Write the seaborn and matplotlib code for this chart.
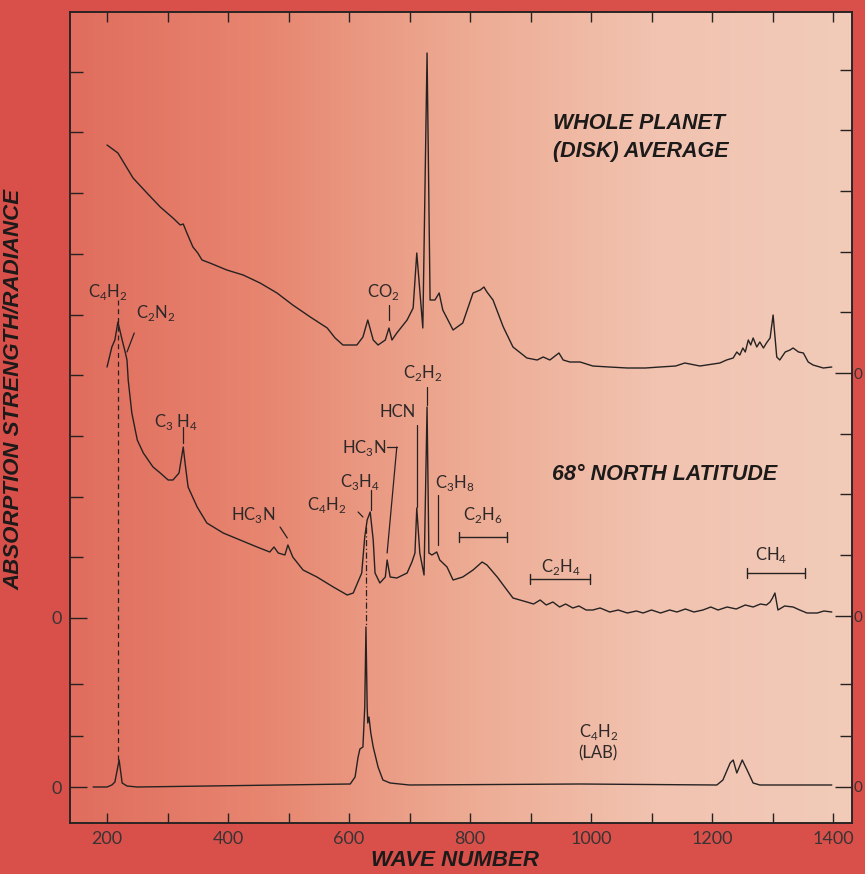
import numpy as np
import pandas as pd
import seaborn as sns
import matplotlib.pyplot as plt
from matplotlib.colors import LinearSegmentedColormap

# Spectra (wave number, height above each trace's zero)
wn_disk = [200, 218, 243, 266, 288, 309, 321, 326, 332, 342, 350, 357, 370, 398, 425, 453,
           481, 507, 536, 564, 577, 590, 613, 623, 631, 640, 648, 660, 666, 671, 679, 696,
           706, 712, 722, 729, 734, 742, 749, 755, 772, 788, 805, 817, 823, 828, 838, 855,
           871, 894, 911, 921, 932, 947, 954, 965, 982, 1003, 1030, 1060, 1090, 1114, 1140,
           1155, 1180, 1213, 1224, 1235, 1241, 1246, 1251, 1255, 1260, 1264, 1268, 1274,
           1279, 1285, 1290, 1296, 1301, 1307, 1312, 1321, 1329, 1334, 1343, 1351, 1359,
           1367, 1384, 1398]
rad_disk = [228, 220, 195, 180, 166, 155, 148, 149, 140, 126, 120, 113, 110, 103, 98, 90,
            80, 68, 56, 45, 35, 28, 28, 36, 53, 33, 28, 33, 45, 33, 40, 53,
            65, 120, 45, 320, 73, 73, 80, 63, 43, 50, 80, 83, 86, 81, 73, 46,
            26, 15, 13, 16, 13, 20, 13, 11, 11, 7, 6, 5, 5, 6, 7,
            10, 7, 10, 13, 15, 21, 18, 25, 21, 33, 28, 35, 26,
            31, 25, 30, 35, 58, 16, 13, 21, 23, 25, 21, 20, 11,
            8, 5, 6]

wn_north = [200, 208, 213, 218, 225, 230, 233, 235, 241, 250, 260, 276, 288, 301, 309, 319,
            326, 329, 334, 349, 365, 392, 420, 448, 469, 476, 483, 494, 499, 507, 524, 547,
            574, 597, 607, 621, 626, 630, 635, 640, 643, 651, 660, 663, 668, 679, 696, 704,
            709, 712, 717, 724, 729, 732, 737, 745, 750, 762, 772, 788, 805, 820, 828, 845,
            861, 871, 894, 905, 916, 926, 937, 948, 958, 970, 980, 992, 1003, 1015, 1031,
            1045, 1060, 1075, 1086, 1100, 1115, 1130, 1142, 1156, 1170, 1185, 1198, 1210,
            1225, 1240, 1255, 1268, 1280, 1290, 1296, 1300, 1304, 1309, 1320, 1334, 1345,
            1357, 1374, 1385, 1398]
rad_north = [251, 271, 278, 296, 278, 266, 258, 238, 205, 178, 165, 151, 145, 138, 138, 145,
             171, 155, 131, 111, 95, 85, 78, 71, 66, 71, 65, 63, 73, 61, 48, 41,
             31, 23, 25, 45, 81, 98, 106, 78, 45, 35, 41, 58, 41, 40, 45, 56,
             65, 110, 65, 43, 211, 65, 63, 66, 58, 51, 38, 41, 48, 56, 53, 41,
             28, 20, 16, 14, 18, 13, 16, 11, 14, 10, 12, 8, 8, 10, 6,
             8, 5, 7, 5, 8, 5, 8, 6, 9, 6, 8, 11, 8,
             11, 9, 13, 11, 14, 13, 16, 20, 25, 8, 12, 11, 8,
             5, 5, 7, 6]

wn_lab = [177, 200, 208, 213, 220, 225, 233, 250, 602, 610, 615, 618, 623, 626, 628, 630,
          631, 633, 636, 640, 648, 656, 668, 700, 982, 1208, 1218, 1230, 1235, 1241, 1250,
          1258, 1268, 1279, 1398]
rad_lab = [0, 0, 2, 5, 27, 4, 1, 0, 3, 10, 30, 38, 40, 80, 160, 80,
           64, 70, 54, 40, 20, 7, 4, 2, 3, 2, 7, 24, 27, 14, 27,
           17, 4, 2, 2]

# zero level of each trace on the common axis
zero_disk = 450
zero_north = 205
zero_lab = 36

# species labels: text, wave number, height
species = ["C$_\\mathregular{4}$H$_\\mathregular{2}$", "C$_\\mathregular{2}$N$_\\mathregular{2}$",
           "C$_\\mathregular{3}$ H$_\\mathregular{4}$", "HC$_\\mathregular{3}$N",
           "C$_\\mathregular{4}$H$_\\mathregular{2}$", "C$_\\mathregular{3}$H$_\\mathregular{4}$",
           "HC$_\\mathregular{3}$N", "HCN", "C$_\\mathregular{2}$H$_\\mathregular{2}$",
           "C$_\\mathregular{3}$H$_\\mathregular{8}$", "C$_\\mathregular{2}$H$_\\mathregular{6}$",
           "C$_\\mathregular{2}$H$_\\mathregular{4}$", "CH$_\\mathregular{4}$",
           "CO$_\\mathregular{2}$", "C$_\\mathregular{4}$H$_\\mathregular{2}$\n(LAB)"]
species_wn = [202, 281, 314, 441, 564, 618, 625, 681, 722, 775, 821, 950, 1297, 656, 1012]
species_y = [531, 510, 401, 308, 318, 341, 375, 411, 450, 340, 308, 256, 268, 531, 81]

# pointer lines from labels to bands: (wn0, y0, wn1, y1)
pointers = [(245, 490, 233, 471), (326, 396, 326, 380), (486, 296, 498, 285),
            (615, 311, 623, 306), (636, 333, 636, 313), (663, 376, 679, 376),
            (679, 376, 663, 270), (712, 398, 712, 316), (729, 436, 729, 418),
            (747, 328, 747, 278), (666, 518, 666, 503)]
# band ranges: (wn_start, wn_end, height)
bands = [(782, 861, 286), (899, 998, 244), (1258, 1354, 250)]

tick_step = 60.7
lab_step = 51.5

frames = []
for name, w, r, z in [("disk", wn_disk, rad_disk, zero_disk),
                      ("north", wn_north, rad_north, zero_north),
                      ("lab", wn_lab, rad_lab, zero_lab)]:
    frames.append(pd.DataFrame({"wn": w, "rad": np.array(r) + z, "spectrum": name}))
df = pd.concat(frames, ignore_index=True)

sns.set_style("ticks")
plt.rcParams["font.family"] = ["Lato", "DejaVu Sans"]

INK = "#262222"
fig = plt.figure(figsize=(8.65, 8.74), dpi=100, facecolor="#d9504b")
ax = fig.add_axes([70 / 865, 51 / 874, 782 / 865, 811 / 874])

xlim = (138.8, 1431.4)
ylim = (0, 811)

# background gradient (salmon to pale pink)
cmap = LinearSegmentedColormap.from_list(
    "bg", ["#e06d5d", "#e78670", "#edaa92", "#f1c3b0", "#f2cbb9"])
grad = np.linspace(0, 1, 256).reshape(1, -1)
ax.imshow(grad, extent=[*xlim, *ylim], aspect="auto", cmap=cmap, zorder=0)

sns.lineplot(data=df, x="wn", y="rad", units="spectrum", estimator=None, sort=False,
             color=INK, lw=1.0, ax=ax, zorder=3)

# guide lines linking the C4H2 bands to the lab spectrum
ax.plot([218, 218], [523, 63], color=INK, lw=0.9, dashes=(4, 3), zorder=2)
ax.plot([628, 628], [296, 196], color=INK, lw=0.9, dashes=(5, 2, 1, 2), zorder=2)

for x0, y0, x1, y1 in pointers:
    ax.plot([x0, x1], [y0, y1], color=INK, lw=0.9, zorder=2)
for a, b, h in bands:
    ax.plot([a, b], [h, h], color=INK, lw=1.0)
    ax.plot([a, a], [h - 5, h + 5], color=INK, lw=1.0)
    ax.plot([b, b], [h - 5, h + 5], color=INK, lw=1.0)

for s, x, y in zip(species, species_wn, species_y):
    ax.text(x, y, s, ha="center", va="center", fontsize=12, color="#2e2828",
            linespacing=1.25)

bold = dict(family=["Liberation Sans", "DejaVu Sans"], fontweight="bold", style="italic",
            color="#1d1a1a")
ax.text(937, 700, "WHOLE PLANET", fontsize=15.5, va="center", ha="left", **bold)
ax.text(937, 672, "(DISK) AVERAGE", fontsize=15.5, va="center", ha="left", **bold)
ax.text(936, 349, "68° NORTH LATITUDE", fontsize=15.5, va="center", ha="left", **bold)

ax.set_xlim(*xlim)
ax.set_ylim(*ylim)

# x ticks: labels every 200, plain ticks every 100, on top and bottom
ax.set_xticks(np.arange(200, 1401, 200))
ax.set_xticklabels([str(v) for v in range(200, 1401, 200)])
ax.set_xticks(np.arange(300, 1400, 200), minor=True)
ax.tick_params(axis="x", which="both", direction="in", top=True, bottom=True,
               length=7, width=1.0, color=INK, labelsize=13, labelcolor="#3a3333", pad=6)

# left ticks: zero of the north trace and the lab trace
left_minor = [zero_north + k * tick_step for k in range(1, 10)] + \
             [zero_lab + k * lab_step for k in range(1, 3)]
ax.set_yticks([zero_lab, zero_north])
ax.set_yticklabels(["0", "0"])
ax.set_yticks(left_minor, minor=True)
ax.tick_params(axis="y", which="major", direction="in", length=12, width=1.0, color=INK,
               labelsize=13, labelcolor="#3a3333", pad=6)
ax.tick_params(axis="y", which="minor", direction="in", length=9, width=1.0, color=INK)

ax2 = ax.twinx()
ax2.set_ylim(*ylim)
right_zero = [zero_lab, zero_north + 2, zero_disk]
right_minor = [zero_disk + k * tick_step for k in list(range(-3, 0)) + list(range(1, 6))] + \
              [zero_lab + k * lab_step for k in range(1, 3)]
ax2.set_yticks(right_zero)
ax2.set_yticklabels(["0", "0", "0"])
ax2.set_yticks(right_minor, minor=True)
ax2.tick_params(axis="y", which="major", direction="in", length=12, width=1.0, color=INK,
                labelsize=11, labelcolor="#3a3333", pad=1)
ax2.tick_params(axis="y", which="minor", direction="in", length=9, width=1.0, color=INK)

for a in (ax, ax2):
    for sp in a.spines.values():
        sp.set_color(INK)
        sp.set_linewidth(1.1)

ax.set_xlabel("WAVE NUMBER", fontsize=16, **bold)
ax.xaxis.set_label_coords(0.492, -0.033)
ax.set_ylabel("ABSORPTION STRENGTH/RADIANCE", fontsize=16, **bold)
ax.yaxis.set_label_coords(-0.058, 0.534)

fig.savefig("out.png", dpi=100, facecolor=fig.get_facecolor())
